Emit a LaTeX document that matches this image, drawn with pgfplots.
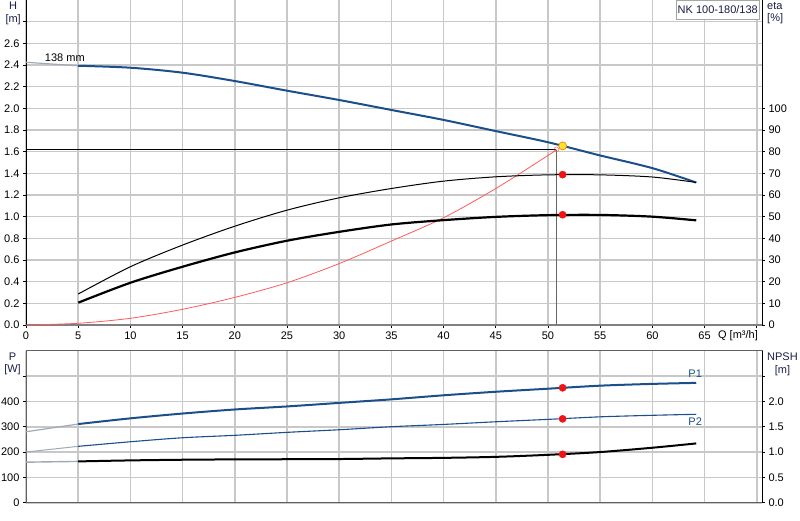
\documentclass[border=0pt]{standalone}
\usepackage{pgfplots}
\pgfplotsset{compat=1.18}
\usepackage{fontspec}
\setmainfont{Liberation Sans}

\definecolor{hblue}{RGB}{26,79,138}
\definecolor{pale}{RGB}{160,168,185}
\definecolor{gridc}{RGB}{200,200,200}
\definecolor{sysred}{RGB}{255,90,90}
\definecolor{dotred}{RGB}{240,20,20}
\definecolor{duty}{RGB}{255,225,40}
\definecolor{dutyedge}{RGB}{235,140,30}
\definecolor{lbl}{RGB}{25,30,70}

\newcommand{\fs}{\fontsize{11}{12.5}\selectfont}

\pgfplotsset{
  pump/.style={
    scale only axis, width=736pt, xmin=0, xmax=70.5,
    tick align=outside, major tick length=3pt,
    tick style={black, line width=0.6pt},
    /pgf/number format/assume math mode=true,
    every tick label/.append style={font=\fs, text=black},
    xtick={0,5,10,15,20,25,30,35,40,45,50,55,60,65,70},
  },
  mygrid/.style={xmajorgrids, ymajorgrids,
    every axis grid/.style={draw=gridc, line width=1.6pt}},
  leftlabel/.style={every axis y label/.style={at={(axis description cs:0,1)},
      anchor=north east, align=center, inner sep=0pt, xshift=-5pt, yshift=-2pt,
      font=\fs, text=lbl}},
  rightlabel/.style={every axis y label/.style={at={(axis description cs:1,1)},
      anchor=north west, align=#1, inner sep=0pt, xshift=5pt, yshift=-2pt,
      font=\fs, text=lbl}},
  dot/.style={only marks, mark=*, mark size=3.6pt, mark options={fill=dotred, draw=dotred}},
}

\begin{document}
\begin{tikzpicture}
% upper chart: head, system curve
\begin{axis}[pump, at={(26pt,0pt)}, anchor=north west, height=325pt,
  ymin=0, ymax=3,
  axis x line*=bottom, axis y line*=left,
  x axis line style={-, draw=gray, line width=1.6pt},
  y axis line style={-, draw=black, line width=0.8pt},
  xticklabels={0,5,10,15,20,25,30,35,40,45,50,55,60,65,{}},
  ytick={0,0.2,0.4,0.6,0.8,1.0,1.2,1.4,1.6,1.8,2.0,2.2,2.4,2.6,2.8},
  yticklabels={0.0,0.2,0.4,0.6,0.8,1.0,1.2,1.4,1.6,1.8,2.0,2.2,2.4,2.6,{}},
  mygrid,
  leftlabel, ylabel={H\\{[m]}},
  every axis x label/.style={at={(axis description cs:1,0)}, anchor=north east,
    inner sep=0pt, xshift=-4pt, yshift=-5pt, font=\fs, text=black},
  xlabel={Q {[m³/h]}},
]
\addplot[black, line width=0.8pt] coordinates {(0,1.62) (50.8,1.62)};
\addplot[gray!80!black, line width=0.8pt] coordinates {(50.8,0) (50.8,1.62)};
\addplot[sysred, line width=0.8pt, smooth] coordinates {
  (0,0) (5,0.016) (10,0.062) (15,0.145) (20,0.255) (25,0.39) (30,0.567)
  (35,0.775) (40,0.99) (45,1.26) (50,1.565) (50.8,1.62)};
\addplot[only marks, mark=o, mark size=2.5pt, sysred] coordinates {(50.8,1.62)};
\addplot[pale, line width=1.2pt] coordinates {(0,2.425) (5,2.393)};
\addplot[hblue, line width=2pt, smooth] coordinates {
  (5,2.393) (10,2.375) (15,2.329) (20,2.252) (25,2.163) (30,2.077) (35,1.985)
  (40,1.893) (45,1.790) (50,1.687) (55,1.565) (60,1.448) (64.2,1.315)};
\addplot[only marks, mark=*, mark size=4pt, mark options={fill=duty, draw=dutyedge, line width=0.8pt}]
  coordinates {(51.4,1.653)};
\node[anchor=west, inner sep=0pt, font=\fs] at (axis cs:1.8,2.467) {138 mm};
\end{axis}

% upper chart: efficiency
\begin{axis}[pump, at={(26pt,0pt)}, anchor=north west, height=325pt,
  ymin=0, ymax=150,
  axis y line*=right, axis x line=none,
  y axis line style={-, draw=black, line width=0.8pt},
  ytick={0,10,20,30,40,50,60,70,80,90,100},
  rightlabel=left, ylabel={eta\\{[\%]}},
]
\addplot[black, line width=1pt, smooth] coordinates {
  (5,14.3) (10,26.9) (15,36.9) (20,45.6) (25,53.0) (30,58.7) (35,63.0)
  (40,66.4) (45,68.4) (50,69.3) (55,69.3) (60,68.3) (64.2,65.8)};
\addplot[black, line width=2.2pt, smooth] coordinates {
  (5,10.3) (10,19.5) (15,26.9) (20,33.5) (25,38.9) (30,43.0) (35,46.4)
  (40,48.4) (45,49.9) (50,50.7) (55,50.8) (60,50.0) (64.2,48.3)};
\addplot[dot] coordinates {(51.4,69.4) (51.4,50.9)};
\node[anchor=north east, draw=gray!70, fill=white, text=lbl, minimum width=78pt,
  minimum height=19pt, inner sep=1pt, font=\fs]
  at (rel axis cs:1,1) [xshift=-3pt] {NK 100-180/138};
\end{axis}

% lower chart: power
\begin{axis}[pump, at={(26pt,-350.7pt)}, anchor=north west, height=152pt,
  ymin=0, ymax=600,
  axis line style={draw=gray!75!black, line width=1pt},
  ytick pos=left, xticklabels={}, xtick style={draw=none},
  ytick={0,100,200,300,400,500},
  yticklabels={0,100,200,300,400,{}},
  mygrid,
  leftlabel, ylabel={P\\{[W]}},
]
\addplot[pale, line width=1.2pt] coordinates {(0,280) (5,310.5)};
\addplot[hblue, line width=2pt, smooth] coordinates {
  (5,310.5) (10,333) (15,352) (20,368) (25,380) (30,394) (35,408)
  (40,424) (45,438) (50,450) (55,462) (60,469) (64.2,473)};
\addplot[pale, line width=1pt] coordinates {(0,200) (5,222.5)};
\addplot[hblue, line width=1.1pt, smooth] coordinates {
  (5,222.5) (10,240.6) (15,256.4) (20,266) (25,277.7) (30,288) (35,300)
  (40,309) (45,319.5) (50,329) (55,339) (60,345) (64.2,349)};
\addplot[dot] coordinates {(51.4,453.6) (51.4,331)};
\node[text=hblue, inner sep=0pt, font=\fs] at (axis cs:64.1,508) {P1};
\node[text=hblue, inner sep=0pt, font=\fs] at (axis cs:64.1,321) {P2};
\end{axis}

% lower chart: NPSH
\begin{axis}[pump, at={(26pt,-350.7pt)}, anchor=north west, height=152pt,
  ymin=0, ymax=3,
  axis y line*=right, axis x line=none,
  y axis line style={-, draw=black, line width=0.8pt},
  ytick={0,0.5,1.0,1.5,2.0,2.5},
  yticklabels={0.0,0.5,1.0,1.5,2.0,{}},
  rightlabel=center, ylabel={NPSH\\{[m]}},
]
\addplot[pale, line width=1.4pt] coordinates {(0,0.80) (5,0.815)};
\addplot[black, line width=2pt, smooth] coordinates {
  (5,0.815) (10,0.835) (15,0.848) (20,0.855) (25,0.858) (30,0.862) (35,0.875)
  (40,0.885) (45,0.905) (50,0.945) (55,1.0) (60,1.085) (64.2,1.17)};
\addplot[dot] coordinates {(51.4,0.955)};
\end{axis}

\pgfresetboundingbox
\path[use as bounding box] (0,0) rectangle (800pt,-520pt);
\end{tikzpicture}
\end{document}
